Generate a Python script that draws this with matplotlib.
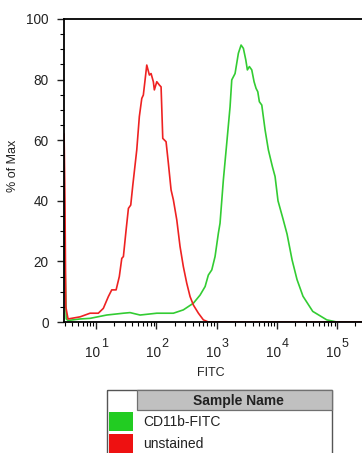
import matplotlib
matplotlib.use("Agg")
import matplotlib.pyplot as plt
from matplotlib.patches import Rectangle
from matplotlib.ticker import LogLocator, MultipleLocator, NullFormatter

plt.rcParams["font.family"] = ["Liberation Sans", "DejaVu Sans"]

# unstained (red)
red_fitc = [2.95, 3.05, 3.15, 3.43, 5.43, 7.95, 10.9, 13.2, 16.0, 18.2, 21.5, 24.3, 26.7,
            28.4, 31.5, 34.4, 37.6, 40.6, 47.3, 52.2, 57.3, 60.8, 65.0, 69.3, 76.6, 81.7,
            89.1, 92.6, 101.6, 112.2, 119.7, 127.7, 144.8, 158.1, 175.3, 191.5, 218, 247,
            280, 319, 362, 411, 498, 602, 728, 2.6e5]
red_pct = [62, 40, 5, 1, 1.7, 2.9, 2.9, 4.5, 8.4, 10.6, 10.6, 15, 21,
           21.6, 30.4, 37.5, 38.6, 45, 56.8, 67.8, 73.8, 74.9, 79.9, 84.8, 81.5, 82,
           79.3, 76.6, 79.3, 78.2, 77.6, 60.6, 59.5, 52.4, 43.6, 40.3, 33.7, 24.9,
           18.3, 12.8, 8.4, 5.6, 2.9, 0.7, 0, 0]

# CD11b-FITC (green)
green_fitc = [2.95, 3.05, 3.2, 3.43, 5.43, 7.95, 15.0, 28.4, 36.6, 53.7, 101.6, 191.5, 280,
              411, 531, 643, 728, 830, 940, 1067, 1137, 1291, 1469, 1667, 1779, 2018,
              2291, 2540, 2774, 3040, 3230, 3487, 3820, 4170, 4500, 4805, 5105, 5597,
              6350, 7200, 8390, 9300, 10400, 12600, 14700, 17800, 21500, 27000, 39200,
              67000, 98000, 2.6e5]
green_pct = [28, 20, 1, 0.5, 1, 1.2, 2.3, 2.9, 3.1, 2.3, 2.9, 2.9, 4,
             6.2, 8.9, 11.7, 15.5, 17.2, 21.6, 29.3, 32.6, 46.9, 59, 71, 79.9, 82,
             88.7, 91.4, 90.3, 86.5, 83.2, 84.3, 83.2, 79.3, 77.1, 76, 72.7, 71.6,
             63.4, 56.8, 51.3, 48, 40, 34, 29, 20.5, 14, 8.5, 3.5,
             0.7, 0, 0]

decades = [1, 2, 3, 4, 5]
samples = ["CD11b-FITC", "unstained"]
colors = ["#22cc22", "#ee1111"]

fig = plt.figure(figsize=(3.62, 4.53), dpi=100)
ax = fig.add_axes([64 / 362, 1 - 322 / 453, 1 - 64 / 362, (322 - 19) / 453])

ax.plot(green_fitc, green_pct, color="#33cc33", lw=1.2)
ax.plot(red_fitc, red_pct, color="#ee2222", lw=1.2)

ax.set_xscale("log")
ax.set_xlim(2.94, 2.57e5)
ax.set_ylim(0, 100)
ax.yaxis.set_major_locator(MultipleLocator(20))
ax.yaxis.set_minor_locator(MultipleLocator(5))
ax.xaxis.set_major_locator(LogLocator(base=10, numticks=10))
ax.xaxis.set_minor_locator(LogLocator(base=10, subs=range(2, 10), numticks=20))
ax.xaxis.set_major_formatter(NullFormatter())
ax.xaxis.set_minor_formatter(NullFormatter())

for s in ["left", "top", "bottom"]:
    ax.spines[s].set_linewidth(1.3)
ax.spines["right"].set_visible(False)
ax.tick_params(which="major", direction="out", length=5, width=1, colors="#222222")
ax.tick_params(axis="y", which="major", labelsize=9.8, pad=6)
ax.tick_params(which="minor", direction="out", length=3, width=0.8)

# decade labels with big superscripts like the cytometer software
for d in decades:
    ax.annotate("10", xy=(10 ** d, 0), xycoords=("data", "axes fraction"),
                xytext=(3, -22), textcoords="offset points", ha="right", va="center",
                fontsize=9.8, color="#222222")
    ax.annotate(str(d), xy=(10 ** d, 0), xycoords=("data", "axes fraction"),
                xytext=(3.3, -15.5), textcoords="offset points", ha="left", va="center",
                fontsize=9, color="#222222")

ax.set_ylabel("% of Max", fontsize=9, color="#222222")
ax.yaxis.set_label_coords(-0.15, 0.515)
ax.set_xlabel("FITC", fontsize=9, color="#222222")
ax.xaxis.set_label_coords((211 - 64) / 298, -(367 - 322) / 303)

# legend table under the plot
lg = fig.add_axes([0, 0, 1, 1], facecolor="none")
lg.set_xlim(0, 362)
lg.set_ylim(453, 0)
lg.axis("off")
lg.add_patch(Rectangle((107, 390), 225, 70, fill=False, ec="#555555", lw=1))
lg.add_patch(Rectangle((137, 390), 195, 20, fc="#c0c0c0", ec="#707070", lw=0.9))
lg.text(238, 400.5, "Sample Name", ha="center", va="center", fontsize=10,
        fontweight="bold", color="#222222")
for i, (name, c) in enumerate(zip(samples, colors)):
    y = 411.5 + i * 22.3
    lg.add_patch(Rectangle((109.3, y), 24, 19.5, fc=c, ec="none"))
    lg.text(143, y + 10, name, ha="left", va="center", fontsize=10, color="#222222")

fig.savefig("out.png", dpi=100)
